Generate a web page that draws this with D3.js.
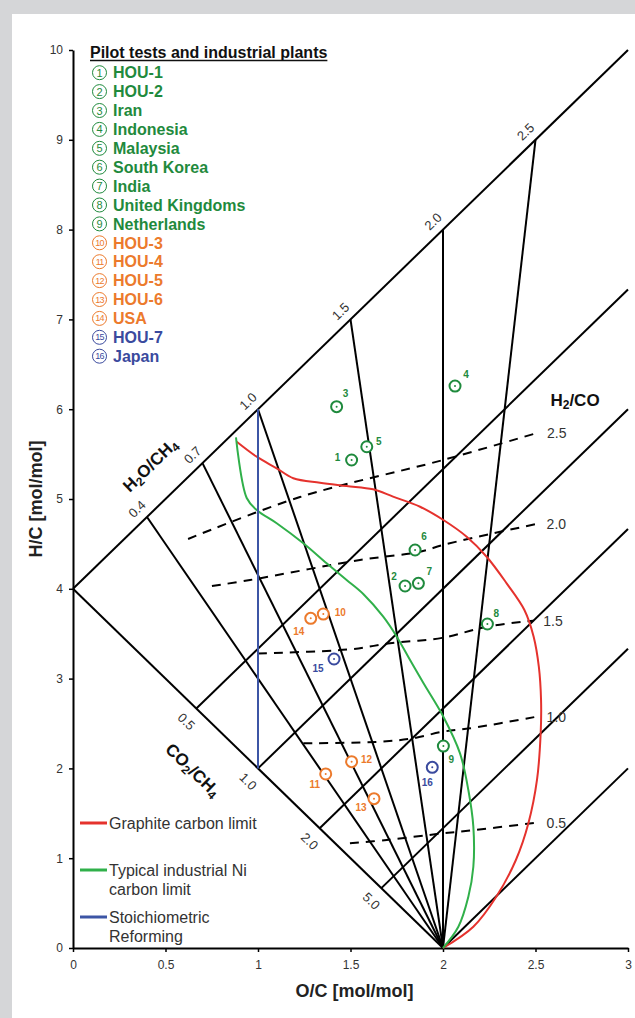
<!DOCTYPE html>
<html>
<head>
<meta charset="utf-8">
<script src="https://cdn.jsdelivr.net/npm/d3@7"></script>
<style>
  html, body { margin: 0; padding: 0; background: #d5d6d8; }
  svg { display: block; }
  text { font-family: "Liberation Sans", Arial, sans-serif; }
</style>
</head>
<body>
<svg id="chart" width="635" height="1018"></svg>
<script>
"use strict";

// axis ticks
const xTicks = [0, 0.5, 1, 1.5, 2, 2.5, 3];
const yTicks = [0, 1, 2, 3, 4, 5, 6, 7, 8, 9, 10];

// feed ratios marked on the two boundary lines
const h2oCh4 = [0.4, 0.7, 1.0, 1.5, 2.0, 2.5];
const co2Ch4 = [0.5, 1.0, 2.0, 5.0];

// H2/CO iso-lines, [O/C, H/C]
const h2coLabels = ["2.5", "2.0", "1.5", "1.0", "0.5"];
const h2coLines = [
  [[0.622, 4.555], [1.227, 5.022], [2.0, 5.434], [2.508, 5.735]],
  [[0.751, 4.031], [0.957, 4.098], [1.551, 4.321], [1.876, 4.413], [2.0, 4.488], [2.272, 4.618], [2.506, 4.722]],
  [[1.0, 3.28], [1.497, 3.326], [1.714, 3.393], [2.0, 3.455], [2.236, 3.578], [2.488, 3.645]],
  [[1.245, 2.279], [1.659, 2.297], [1.839, 2.335], [2.0, 2.409], [2.146, 2.446], [2.506, 2.576]],
  [[1.497, 1.166], [1.696, 1.203], [2.0, 1.277], [2.092, 1.295], [2.506, 1.395]],
];

const graphiteLimit = [
  [0.885, 5.638], [0.993, 5.471], [1.101, 5.342], [1.191, 5.231], [1.335, 5.182],
  [1.479, 5.145], [1.622, 5.108], [1.730, 5.026], [1.876, 4.914], [2.002, 4.766],
  [2.128, 4.580], [2.236, 4.357], [2.344, 4.061], [2.440, 3.764], [2.490, 3.467],
  [2.518, 3.133], [2.530, 2.762], [2.528, 2.394], [2.508, 1.871], [2.462, 1.392],
  [2.394, 0.980], [2.288, 0.571], [2.164, 0.237], [2.0, 0],
];

const niLimit = [
  [0.881, 5.687], [0.939, 5.011], [0.993, 4.878], [1.101, 4.730], [1.245, 4.507],
  [1.371, 4.284], [1.479, 4.098], [1.569, 3.942], [1.677, 3.689], [1.750, 3.467],
  [1.822, 3.207], [1.894, 2.951], [2.002, 2.576], [2.092, 2.168], [2.137, 1.759],
  [2.164, 1.351], [2.164, 0.905], [2.137, 0.571], [2.083, 0.237], [2.0, 0],
];

const stoichLine = [[1, 2], [1, 6]];

// pilot tests and industrial plants
const plantNames = [
  "HOU-1", "HOU-2", "Iran", "Indonesia", "Malaysia", "South Korea", "India",
  "United Kingdoms", "Netherlands", "HOU-3", "HOU-4", "HOU-5", "HOU-6", "USA",
  "HOU-7", "Japan",
];
const plantGroup = [0, 0, 0, 0, 0, 0, 0, 0, 0, 1, 1, 1, 1, 1, 2, 2];
const plantOC = [1.506, 1.795, 1.425, 2.065, 1.588, 1.849, 1.867, 2.240, 2.002, 1.353, 1.366, 1.506, 1.627, 1.285, 1.411, 1.942];
const plantHC = [5.434, 4.031, 6.028, 6.258, 5.582, 4.432, 4.061, 3.608, 2.249, 3.719, 1.938, 2.075, 1.663, 3.671, 3.218, 2.012];

const groupColors = ["#1f8a3d", "#ec7a2c", "#3a4a9e"];
// where the small number sits next to each marker (px)
const labelShift = [
  [-14, 1], [-11, -6], [9, -10], [11, -8], [12, -2], [9, -10], [11, -8], [9, -7],
  [8, 17], [17, 2], [-11, 14], [15, 1], [-13, 12], [-12, 17], [-16, 13], [-5, 19],
];

const svg = d3.select("#chart");

svg.append("rect")
  .attr("x", 12).attr("y", 14)
  .attr("width", 623).attr("height", 1004)
  .attr("fill", "#fff");

const x = d3.scaleLinear().domain([0, 3]).range([73, 628]);
const y = d3.scaleLinear().domain([0, 10]).range([948, 50]);
const line = d3.line().x((d) => x(d[0])).y((d) => y(d[1]));
const curve = d3.line().x((d) => x(d[0])).y((d) => y(d[1])).curve(d3.curveCatmullRom);

// angle of the slope-2 lines on screen
const slopeAngle = (Math.atan2(y(2) - y(0), x(1) - x(0)) * 180) / Math.PI;

// axes
const xAxis = svg.append("g")
  .attr("transform", `translate(0,${y(0)})`)
  .call(d3.axisBottom(x).tickValues(xTicks).tickFormat(d3.format("~g")).tickSize(4).tickSizeOuter(0).tickPadding(8));
const yAxis = svg.append("g")
  .attr("transform", `translate(${x(0)},0)`)
  .call(d3.axisLeft(y).tickValues(yTicks).tickSize(4).tickSizeOuter(0).tickPadding(6));

[xAxis, yAxis].forEach((g) => {
  g.select(".domain").attr("stroke", "#000").attr("stroke-width", 2);
  g.selectAll(".tick line").attr("stroke", "#000").attr("stroke-width", 1.5);
  g.selectAll(".tick text").attr("fill", "#333").style("font-size", "12px");
});

svg.append("text")
  .attr("transform", `translate(36,${(y(0) + y(10)) / 2}) rotate(-90)`)
  .attr("text-anchor", "middle")
  .attr("dominant-baseline", "central")
  .style("font-size", "18px").style("font-weight", "bold")
  .attr("fill", "#222")
  .text("H/C [mol/mol]");

svg.append("text")
  .attr("x", (x(0) + x(3)) / 2 + 4).attr("y", 997)
  .attr("text-anchor", "middle")
  .style("font-size", "18px").style("font-weight", "bold")
  .attr("fill", "#222")
  .text("O/C [mol/mol]");

// solid grid of the diagram
const solid = [];
solid.push([[0, 4], [3, 10]]);
solid.push([[0, 4], [2, 0]]);
h2oCh4.forEach((n) => solid.push([[n, 4 + 2 * n], [2, 0]]));
co2Ch4.forEach((m) => {
  const p = [(2 * m) / (1 + m), 4 / (1 + m)];
  solid.push([p, [3, p[1] + 2 * (3 - p[0])]]);
});
solid.push([[2, 0], [3, 2]]);

svg.append("g")
  .selectAll("path")
  .data(solid)
  .enter()
  .append("path")
  .attr("d", line)
  .attr("fill", "none")
  .attr("stroke", "#000")
  .attr("stroke-width", 2);

// dashed H2/CO lines
svg.append("g")
  .selectAll("path")
  .data(h2coLines)
  .enter()
  .append("path")
  .attr("d", curve)
  .attr("fill", "none")
  .attr("stroke", "#000")
  .attr("stroke-width", 2)
  .attr("stroke-dasharray", "9,7");

svg.append("g")
  .selectAll("text")
  .data(h2coLines)
  .enter()
  .append("text")
  .attr("x", (d) => x(d[d.length - 1][0]) + 10)
  .attr("y", (d) => y(d[d.length - 1][1]))
  .attr("dominant-baseline", "central")
  .style("font-size", "14px")
  .attr("fill", "#333")
  .text((d, i) => h2coLabels[i]);

// limit curves
svg.append("path")
  .attr("d", curve(graphiteLimit))
  .attr("fill", "none").attr("stroke", "#e5322d").attr("stroke-width", 2);
svg.append("path")
  .attr("d", curve(niLimit))
  .attr("fill", "none").attr("stroke", "#30b04a").attr("stroke-width", 2);
svg.append("path")
  .attr("d", line(stoichLine))
  .attr("fill", "none").attr("stroke", "#3c55a5").attr("stroke-width", 2);

// ratio labels
const fmt = d3.format(".1f");
svg.append("g")
  .selectAll("text")
  .data(h2oCh4)
  .enter()
  .append("text")
  .attr("transform", (n) => `translate(${x(n) - 10},${y(4 + 2 * n) - 8}) rotate(${slopeAngle})`)
  .attr("text-anchor", "middle")
  .attr("dominant-baseline", "central")
  .style("font-size", "13px")
  .attr("fill", "#333")
  .text(fmt);

svg.append("g")
  .selectAll("text")
  .data(co2Ch4)
  .enter()
  .append("text")
  .attr("transform", (m) => `translate(${x((2 * m) / (1 + m)) - 10},${y(4 / (1 + m)) + 13}) rotate(${-slopeAngle})`)
  .attr("text-anchor", "middle")
  .attr("dominant-baseline", "central")
  .style("font-size", "13px")
  .attr("fill", "#333")
  .text(fmt);

function formula(g, parts) {
  const t = g.append("text")
    .attr("text-anchor", "middle")
    .attr("dominant-baseline", "central")
    .style("font-size", "17px").style("font-weight", "bold")
    .attr("fill", "#111");
  parts.forEach((p) => {
    if (p.sub) {
      t.append("tspan").attr("dy", 5).style("font-size", "12px").text(p.sub);
    } else {
      t.append("tspan").attr("dy", p.up ? -5 : 0).text(p.t);
    }
  });
  return t;
}

formula(svg.append("g").attr("transform", `translate(150,465) rotate(${slopeAngle})`),
  [{ t: "H" }, { sub: "2" }, { t: "O/CH", up: true }, { sub: "4" }]);
formula(svg.append("g").attr("transform", `translate(193,770) rotate(${-slopeAngle})`),
  [{ t: "CO" }, { sub: "2" }, { t: "/CH", up: true }, { sub: "4" }]);
formula(svg.append("g").attr("transform", "translate(575,400)"),
  [{ t: "H" }, { sub: "2" }, { t: "/CO", up: true }]);

// plant markers
const plants = plantNames.map((name, i) => ({ name, i, oc: plantOC[i], hc: plantHC[i], g: plantGroup[i] }));

const marker = svg.append("g")
  .selectAll("g")
  .data(plants)
  .enter()
  .append("g")
  .attr("transform", (d) => `translate(${x(d.oc)},${y(d.hc)})`);

marker.append("circle")
  .attr("r", 5.5)
  .attr("fill", "#fff")
  .attr("stroke", (d) => groupColors[d.g])
  .attr("stroke-width", 2);
marker.append("circle")
  .attr("r", 1)
  .attr("fill", (d) => groupColors[d.g]);
marker.append("text")
  .attr("x", (d) => labelShift[d.i][0])
  .attr("y", (d) => labelShift[d.i][1])
  .attr("text-anchor", "middle")
  .style("font-size", "10px").style("font-weight", "bold")
  .attr("fill", (d) => groupColors[d.g])
  .text((d) => d.i + 1);

// legend of plants
const title = svg.append("text")
  .attr("x", 90).attr("y", 58)
  .style("font-size", "16px").style("font-weight", "bold")
  .attr("fill", "#111")
  .text("Pilot tests and industrial plants");
const titleW = title.node().getComputedTextLength();
svg.append("line")
  .attr("x1", 90).attr("x2", 90 + titleW)
  .attr("y1", 60.5).attr("y2", 60.5)
  .attr("stroke", "#111").attr("stroke-width", 1.3);

const entry = svg.append("g")
  .selectAll("g")
  .data(plants)
  .enter()
  .append("g")
  .attr("transform", (d) => `translate(99.5,${72.7 + d.i * 18.9})`);

entry.append("circle")
  .attr("r", 7)
  .attr("fill", "none")
  .attr("stroke", (d) => groupColors[d.g])
  .attr("stroke-width", 1);
entry.append("text")
  .attr("text-anchor", "middle")
  .attr("dominant-baseline", "central")
  .style("font-size", (d) => (d.i >= 9 ? "9px" : "11px"))
  .style("letter-spacing", (d) => (d.i >= 9 ? "-0.8px" : "0"))
  .attr("fill", (d) => groupColors[d.g])
  .text((d) => d.i + 1);
entry.append("text")
  .attr("x", 13.5)
  .attr("y", 5.7)
  .style("font-size", "16px").style("font-weight", "bold")
  .attr("fill", (d) => groupColors[d.g])
  .text((d) => d.name);

// legend of limit lines
const lineKeys = [
  { color: "#e5322d", lines: ["Graphite carbon limit"], y: 823 },
  { color: "#30b04a", lines: ["Typical industrial Ni", "carbon limit"], y: 870 },
  { color: "#3c55a5", lines: ["Stoichiometric", "Reforming"], y: 917 },
];

const key = svg.append("g")
  .selectAll("g")
  .data(lineKeys)
  .enter()
  .append("g")
  .attr("transform", (d) => `translate(0,${d.y})`);

key.append("line")
  .attr("x1", 80).attr("x2", 107)
  .attr("stroke", (d) => d.color)
  .attr("stroke-width", 3);
key.append("text")
  .attr("x", 109)
  .attr("y", 5.5)
  .style("font-size", "16px")
  .attr("fill", "#333")
  .selectAll("tspan")
  .data((d) => d.lines)
  .enter()
  .append("tspan")
  .attr("x", 109)
  .attr("dy", (d, i) => (i === 0 ? 0 : 19))
  .text((d) => d);
</script>
</body>
</html>
